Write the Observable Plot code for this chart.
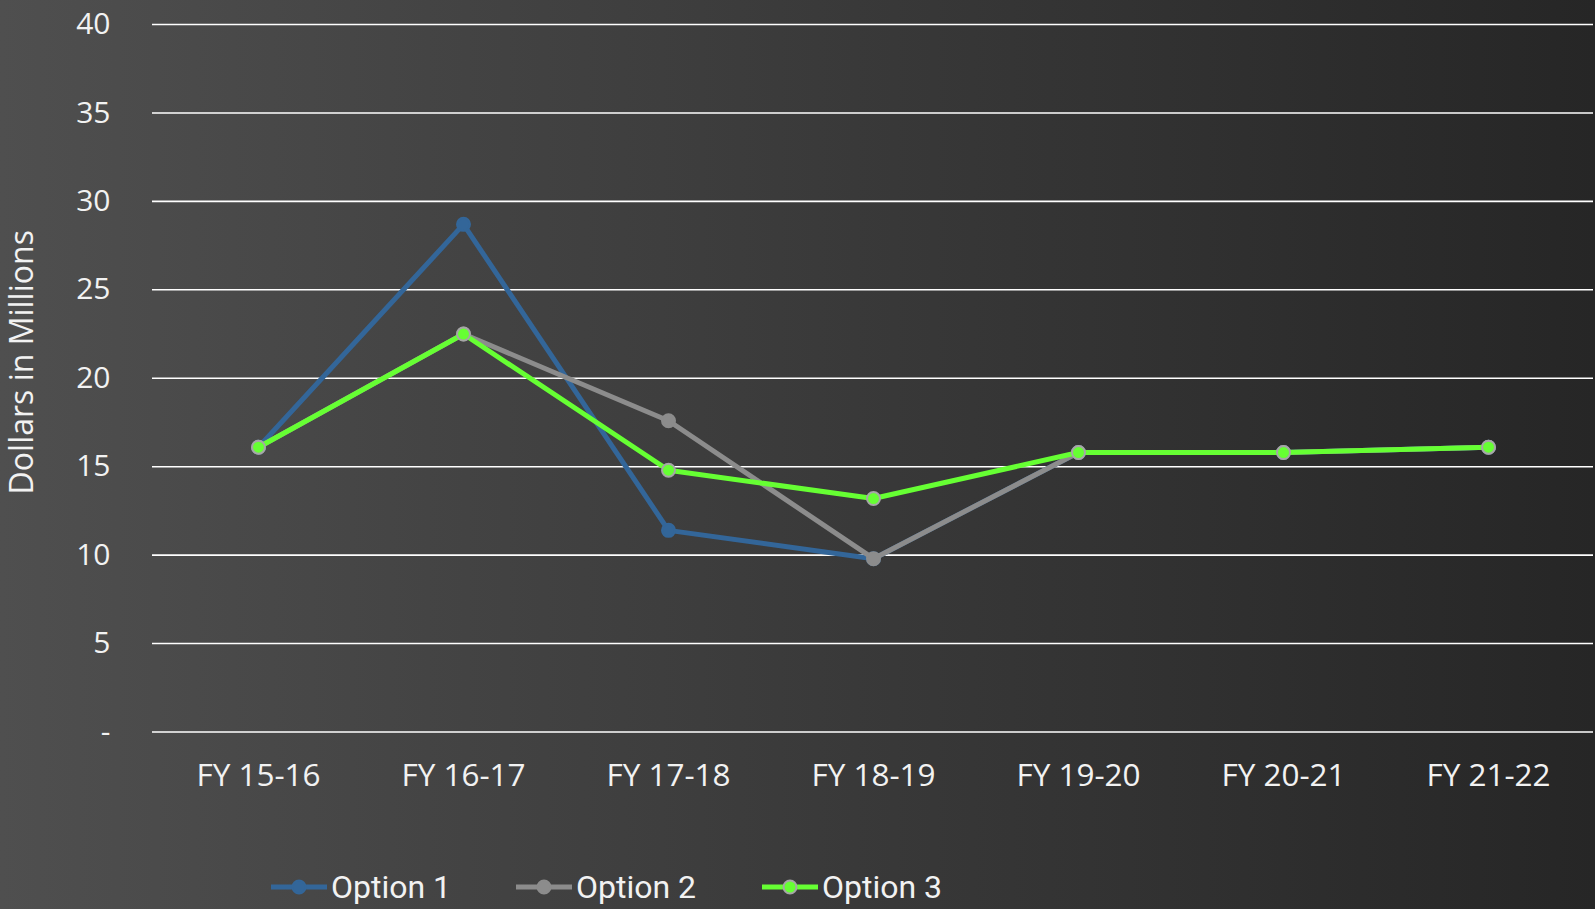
<!DOCTYPE html>
<html><head><meta charset="utf-8">
<script src="https://cdn.jsdelivr.net/npm/d3@7"></script>
<script src="https://cdn.jsdelivr.net/npm/@observablehq/plot@0.6"></script>
<style>
html,body{margin:0;padding:0;}
body{width:1595px;height:909px;background:linear-gradient(to right,#4f4f4f,#262626);overflow:hidden;font-family:"Open Sans",sans-serif;}
#legend{position:relative;height:59px;}
.item{position:absolute;top:7px;height:59px;display:flex;align-items:center;color:#f2f2f2;font-family:"Liberation Sans Narrow","Roboto",sans-serif;font-size:32px;}
.item svg{margin-right:4px;}
</style></head><body>
<div id="chart"></div><div id="legend"></div>
<script>
const categories = ["FY 15-16","FY 16-17","FY 17-18","FY 18-19","FY 19-20","FY 20-21","FY 21-22"];
const option1 = [16.1, 28.7, 11.4, 9.8, 15.8, 15.8, 16.1];
const option2 = [16.1, 22.5, 17.6, 9.8, 15.8, 15.8, 16.1];
const option3 = [16.1, 22.5, 14.8, 13.2, 15.8, 15.8, 16.1];
const seriesNames = ["Option 1","Option 2","Option 3"];
const seriesValues = [option1, option2, option3];
const colors = ["#336699","#8c8c8c","#66ff33"];
const markerStrokes = ["#336699","#8c8c8c","#a6a6a6"];
const yTicks = [0,5,10,15,20,25,30,35,40];
const yTitle = "Dollars in Millions";

const data = seriesNames.flatMap((s, k) => categories.map((c, i) => ({series: s, cat: c, value: seriesValues[k][i]})));

const seriesMarks = seriesNames.flatMap((s, k) => {
  const d = data.filter(r => r.series === s);
  return [
    Plot.lineY(d, {x: "cat", y: "value", stroke: colors[k], strokeWidth: 5}),
    Plot.dot(d, {x: "cat", y: "value", fill: colors[k], stroke: markerStrokes[k], strokeWidth: 2, r: 6.5})
  ];
});

const plot = Plot.plot({
  width: 1595, height: 850,
  marginLeft: 152, marginRight: 2, marginTop: 24, marginBottom: 118.5,
  style: {background: "transparent", color: "#f2f2f2", fontFamily: "'Open Sans', sans-serif", fontSize: "29px"},
  x: {type: "point", domain: categories, padding: 0.5, label: null},
  y: {domain: [0, 40], label: null},
  marks: [
    Plot.gridY(yTicks, {stroke: "white", strokeOpacity: 1, strokeWidth: 1.6}),
    Plot.axisY(yTicks, {tickSize: 0, tickPadding: 42, tickFormat: d => d === 0 ? "-" : String(d), fontSize: 30, label: null}),
    Plot.axisX({tickSize: 0, tickPadding: 32, fontSize: 31.5, label: null}),
    ...seriesMarks,
    Plot.text([yTitle], {frameAnchor: "left", textAnchor: "middle", dx: -130, dy: -16, rotate: -90, fontSize: 32, fill: "#f2f2f2", text: d => d})
  ]
});
document.getElementById("chart").appendChild(plot);

const legend = document.getElementById("legend");
const lefts = [271, 516, 762];
seriesNames.forEach((s, k) => {
  const item = document.createElement("div");
  item.className = "item";
  item.style.left = lefts[k] + "px";
  item.innerHTML = `<svg width="56" height="20"><line x1="0" y1="10" x2="56" y2="10" stroke="${colors[k]}" stroke-width="5"/><circle cx="28" cy="10" r="6.5" fill="${colors[k]}" stroke="${markerStrokes[k]}" stroke-width="2"/></svg><span>${s}</span>`;
  legend.appendChild(item);
});
</script>
</body></html>
